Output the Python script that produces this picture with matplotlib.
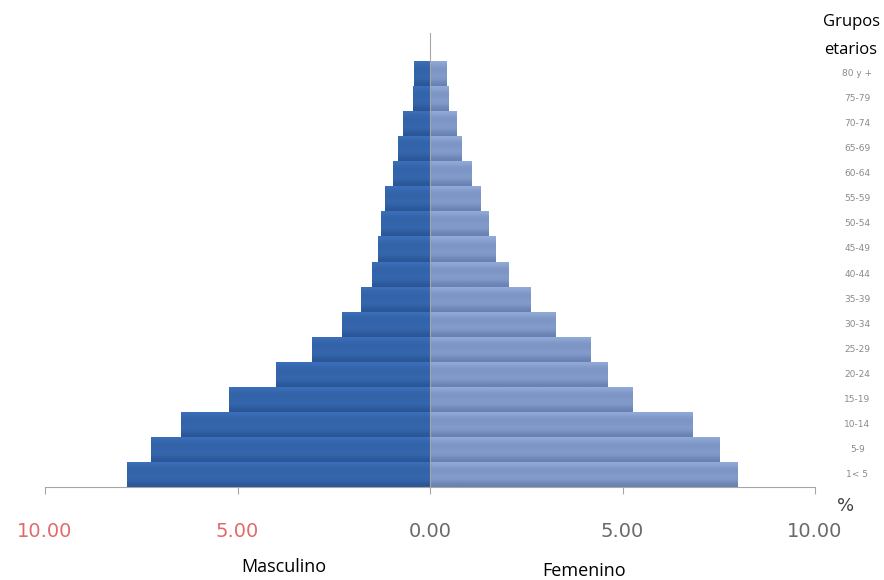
import numpy as np
import matplotlib
matplotlib.use("Agg")
import matplotlib.pyplot as plt
from matplotlib.colors import LinearSegmentedColormap

# Age groups (bottom to top) and % of population
grupos = ["1< 5", "5-9", "10-14", "15-19", "20-24", "25-29", "30-34", "35-39",
          "40-44", "45-49", "50-54", "55-59", "60-64", "65-69", "70-74", "75-79", "80 y +"]
masculino = [7.87, 7.25, 6.47, 5.22, 4.00, 3.06, 2.29, 1.79,
             1.51, 1.35, 1.27, 1.17, 0.96, 0.83, 0.70, 0.44, 0.42]
femenino = [8.00, 7.51, 6.81, 5.27, 4.62, 4.18, 3.25, 2.60,
            2.03, 1.71, 1.51, 1.30, 1.09, 0.83, 0.68, 0.49, 0.44]

tick_vals = [-10, -5, 0, 5, 10]
tick_txt = ["10.00", "5.00", "0.00", "5.00", "10.00"]

fig = plt.figure(figsize=(8.84, 5.80), dpi=100)
ax = fig.add_axes([45 / 884, 93 / 580, 770 / 884, 454 / 580])

y = np.arange(len(grupos))
bars_m = ax.barh(y, [-v for v in masculino], height=1.0, color="#2F60A8", linewidth=0)
bars_f = ax.barh(y, femenino, height=1.0, color="#7F98C8", linewidth=0)

# vertical gradient inside each bar (light top, dark bottom, light band)
prof = np.array([0.0, 0.35, 0.55, 0.45, 0.30, 0.6, 1.0]).reshape(-1, 1)
cm_m = LinearSegmentedColormap.from_list("m", ["#3C70BA", "#2A5697"])
cm_f = LinearSegmentedColormap.from_list("f", ["#93ABD8", "#6880B2"])
for bars, cm in ((bars_m, cm_m), (bars_f, cm_f)):
    for b in bars:
        x0, yb = b.get_x(), b.get_y()
        w, h = b.get_width(), b.get_height()
        im = ax.imshow(prof, cmap=cm, aspect="auto", interpolation="bicubic",
                       extent=[x0, x0 + w, yb, yb + h], vmin=0, vmax=1, zorder=2)
        im.set_clip_path(b)

ax.set_xlim(-10, 10)
ax.set_ylim(-0.5, 17.62)

for s in ["top", "right", "left"]:
    ax.spines[s].set_visible(False)
ax.spines["bottom"].set_color("#A6A6A6")
ax.axvline(0, color="#A6A6A6", lw=0.8, zorder=3)

ax.set_yticks([])
ax.set_xticks(tick_vals)
ax.set_xticklabels(tick_txt, fontsize=14, fontfamily="DejaVu Sans")
ax.tick_params(axis="x", direction="out", length=5, color="#A6A6A6", pad=20)
for lab, v in zip(ax.get_xticklabels(), tick_vals):
    lab.set_color("#E26A6A" if v < 0 else "#6A6A6A")

for yi, g in zip(y, grupos):
    ax.text(11.1, yi, g, fontsize=6.5, color="#8A8A8A", ha="center", va="center",
            clip_on=False)

fig.text(851 / 884, 1 - 22 / 580, "Grupos", fontsize=12, fontfamily="Open Sans",
         ha="center", va="center")
fig.text(851 / 884, 1 - 50 / 580, "etarios", fontsize=12, fontfamily="Open Sans",
         ha="center", va="center")
fig.text(846 / 884, 1 - 506 / 580, "%", fontsize=13, color="#404040",
         ha="center", va="center")
fig.text(284 / 884, 1 - 567 / 580, "Masculino", fontsize=13, fontfamily="Open Sans",
         ha="center", va="center")
fig.text(584 / 884, 1 - 571 / 580, "Femenino", fontsize=13, fontfamily="Open Sans",
         ha="center", va="center")

fig.savefig("out.png", dpi=100)
